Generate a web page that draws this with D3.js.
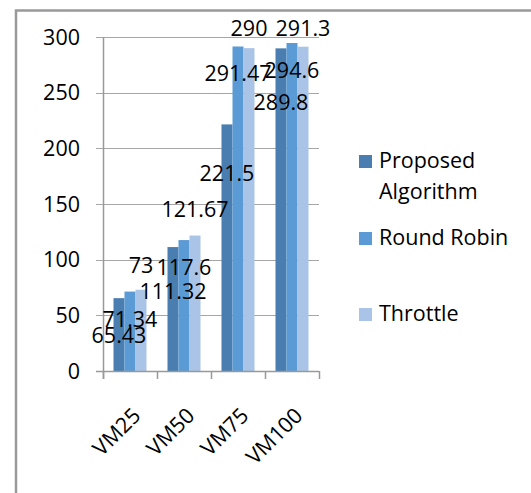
<!DOCTYPE html>
<head>
<meta charset="utf-8">
<style>
    body { margin: 0; background: #fff; }
    text { font-family: "Open Sans", Lato, sans-serif; fill: #000; }
</style>
</head>
<body>
<script src="https://d3js.org/d3.v7.min.js"></script>
<script>

// data
const categories = ['VM25', 'VM50', 'VM75', 'VM100'];
const seriesNames = ['Proposed Algorithm', 'Round Robin', 'Throttle'];
const proposed = [65.43, 111.32, 221.5, 289.8];
const roundRobin = [71.34, 117.6, 291.47, 294.6];
const throttle = [73, 121.67, 290, 291.3];
const yTicks = [0, 50, 100, 150, 200, 250, 300];

// where each value label sits relative to its bar top (px)
const labelShift = [
    [45, 52, 57, 62],
    [35, 35, 35, 35],
    [-17, -19, -12, -11]
];

const colors = ['#4a7eb0', '#5b9bd5', '#a9c4e6'];
const series = [proposed, roundRobin, throttle];

const W = 531, H = 493;
const plot = { left: 103, right: 319, top: 37, bottom: 371 };
const fs = '21.5px';

let svg = d3.select('body').append('svg')
    .attr('width', W)
    .attr('height', H);

// outer frame (left and top edge only visible)
svg.append('path')
    .attr('d', 'M16,' + H + ' V10.5 H' + W)
    .attr('fill', 'none')
    .attr('stroke', '#999')
    .attr('stroke-width', 2.5);

let x = d3.scaleBand().domain(categories).range([plot.left, plot.right]).paddingInner(0).paddingOuter(0);
let inner = d3.scaleBand().domain(d3.range(3)).range([10.5, x.bandwidth() - 10.5]);
let y = d3.scaleLinear().domain([0, 300]).range([plot.bottom, plot.top]);

// gridlines + y labels
let grid = svg.append('g');
grid.selectAll('line').data(yTicks).enter().append('line')
    .attr('x1', plot.left - 7).attr('x2', plot.right)
    .attr('y1', d => Math.round(y(d)) + 0.5).attr('y2', d => Math.round(y(d)) + 0.5)
    .attr('stroke', '#a6a6a6').attr('stroke-width', 1.2);
grid.selectAll('text').data(yTicks).enter().append('text')
    .attr('x', 80).attr('y', d => y(d) + 7.5)
    .attr('text-anchor', 'end')
    .style('font-size', fs)
    .text(d => d);

// bars
series.forEach((vals, s) => {
    svg.append('g').selectAll('rect').data(vals).enter().append('rect')
        .attr('x', (d, i) => x(categories[i]) + inner(s))
        .attr('width', inner.bandwidth())
        .attr('y', d => y(d))
        .attr('height', d => plot.bottom - y(d))
        .attr('fill', colors[s]);
});

// axes lines
svg.append('line')
    .attr('x1', plot.left + 0.5).attr('x2', plot.left + 0.5)
    .attr('y1', plot.top).attr('y2', plot.bottom + 8)
    .attr('stroke', '#999').attr('stroke-width', 1.5);
svg.append('line')
    .attr('x1', plot.left - 7).attr('x2', plot.right)
    .attr('y1', plot.bottom + 0.5).attr('y2', plot.bottom + 0.5)
    .attr('stroke', '#999').attr('stroke-width', 1.5);
svg.append('g').selectAll('line').data(categories.concat(['end'])).enter().append('line')
    .attr('x1', (d, i) => plot.left + i * x.bandwidth() + 0.5)
    .attr('x2', (d, i) => plot.left + i * x.bandwidth() + 0.5)
    .attr('y1', plot.bottom).attr('y2', plot.bottom + 8)
    .attr('stroke', '#999').attr('stroke-width', 1.5);

// category labels
svg.append('g').selectAll('text').data(categories).enter().append('text')
    .attr('transform', d => 'translate(' + (x(d) + x.bandwidth() / 2 + 12) + ',' + (plot.bottom + 46) + ') rotate(-45)')
    .attr('text-anchor', 'end')
    .style('font-size', fs)
    .text(d => d);

// value labels
series.forEach((vals, s) => {
    svg.append('g').selectAll('text').data(vals).enter().append('text')
        .attr('x', (d, i) => x(categories[i]) + inner(s) + inner.bandwidth() / 2)
        .attr('y', (d, i) => y(d) + labelShift[s][i])
        .attr('text-anchor', 'middle')
        .style('font-size', fs)
        .text(d => d);
});

// legend
const legendY = [168, 245, 321];
let legend = svg.append('g');
seriesNames.forEach((name, s) => {
    legend.append('rect')
        .attr('x', 359).attr('y', legendY[s] - 13)
        .attr('width', 13).attr('height', 13)
        .attr('fill', colors[s]);
    let t = legend.append('text')
        .attr('x', 379).attr('y', legendY[s])
        .style('font-size', fs);
    if (name === 'Proposed Algorithm') {
        t.append('tspan').text('Proposed');
        t.append('tspan').attr('x', 379).attr('dy', 31).text('Algorithm');
    } else {
        t.text(name);
    }
});

</script>
</body>
